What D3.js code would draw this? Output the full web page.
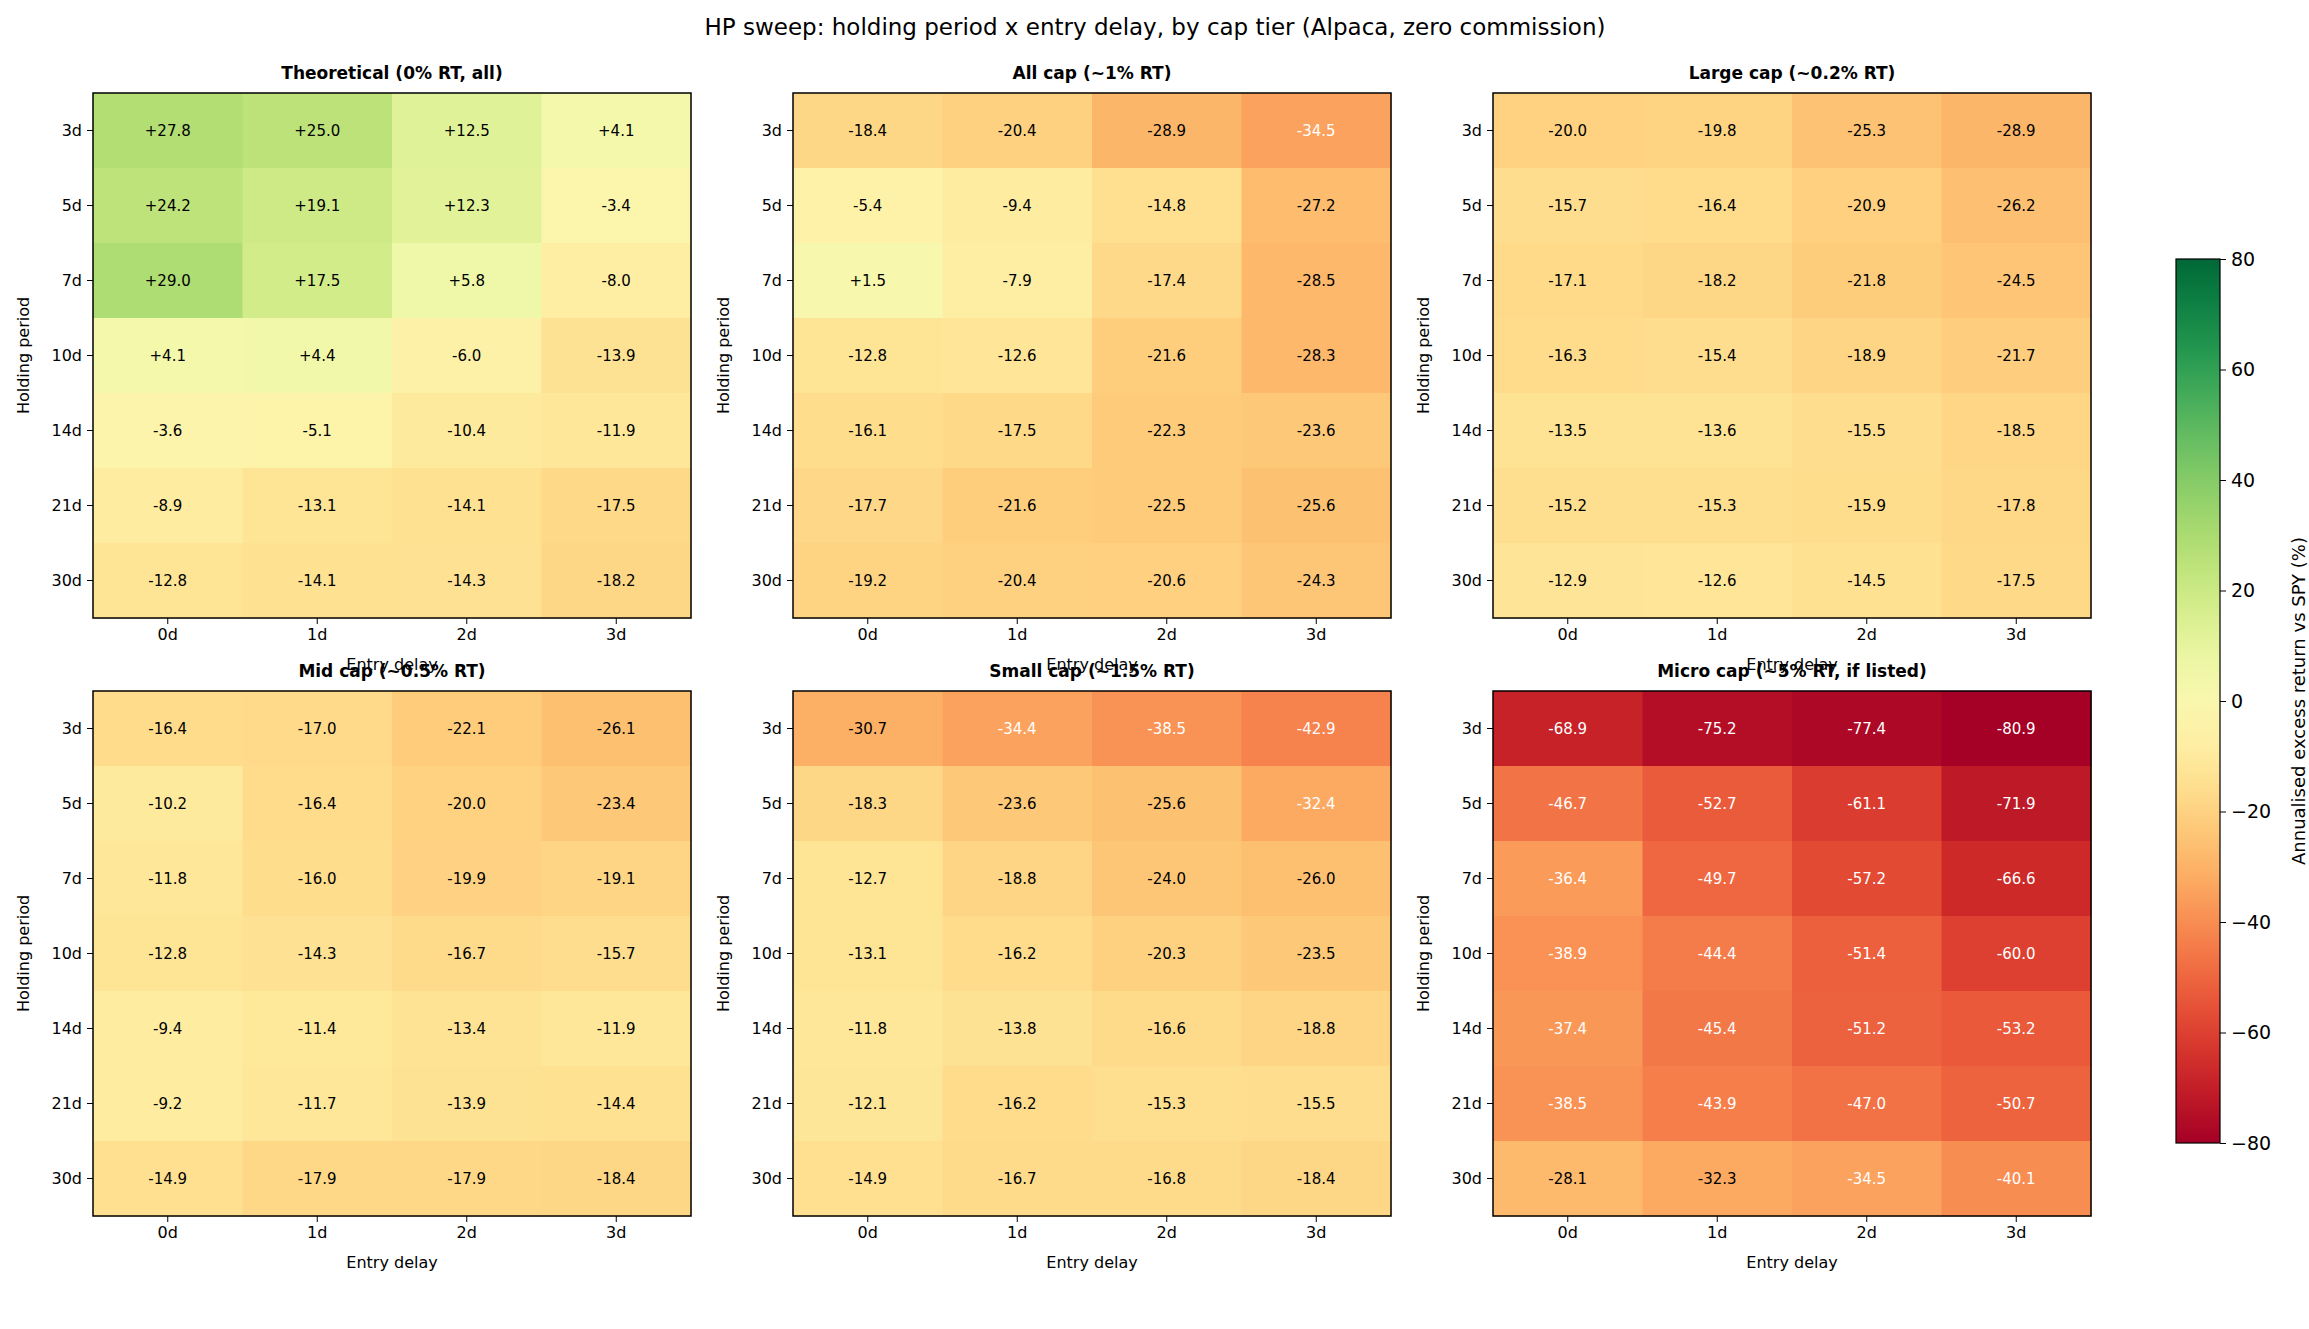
<!DOCTYPE html><html><head><meta charset="utf-8"><script src="https://cdn.jsdelivr.net/npm/d3@7"></script>
<style>body{margin:0;background:#fff}text{font-family:"DejaVu Sans",sans-serif}</style></head><body>
<svg id="c" width="2309" height="1329"></svg>
<script>
const holding=["3d","5d","7d","10d","14d","21d","30d"];
const delays=["0d","1d","2d","3d"];
const titles=["Theoretical (0% RT, all)","All cap (~1% RT)","Large cap (~0.2% RT)","Mid cap (~0.5% RT)","Small cap (~1.5% RT)","Micro cap (~5% RT, if listed)"];
const theoretical=[[27.8,25.0,12.5,4.1],[24.2,19.1,12.3,-3.4],[29.0,17.5,5.8,-8.0],[4.1,4.4,-6.0,-13.9],[-3.6,-5.1,-10.4,-11.9],[-8.9,-13.1,-14.1,-17.5],[-12.8,-14.1,-14.3,-18.2]];
const allCap=[[-18.4,-20.4,-28.9,-34.5],[-5.4,-9.4,-14.8,-27.2],[1.5,-7.9,-17.4,-28.5],[-12.8,-12.6,-21.6,-28.3],[-16.1,-17.5,-22.3,-23.6],[-17.7,-21.6,-22.5,-25.6],[-19.2,-20.4,-20.6,-24.3]];
const largeCap=[[-20.0,-19.8,-25.3,-28.9],[-15.7,-16.4,-20.9,-26.2],[-17.1,-18.2,-21.8,-24.5],[-16.3,-15.4,-18.9,-21.7],[-13.5,-13.6,-15.5,-18.5],[-15.2,-15.3,-15.9,-17.8],[-12.9,-12.6,-14.5,-17.5]];
const midCap=[[-16.4,-17.0,-22.1,-26.1],[-10.2,-16.4,-20.0,-23.4],[-11.8,-16.0,-19.9,-19.1],[-12.8,-14.3,-16.7,-15.7],[-9.4,-11.4,-13.4,-11.9],[-9.2,-11.7,-13.9,-14.4],[-14.9,-17.9,-17.9,-18.4]];
const smallCap=[[-30.7,-34.4,-38.5,-42.9],[-18.3,-23.6,-25.6,-32.4],[-12.7,-18.8,-24.0,-26.0],[-13.1,-16.2,-20.3,-23.5],[-11.8,-13.8,-16.6,-18.8],[-12.1,-16.2,-15.3,-15.5],[-14.9,-16.7,-16.8,-18.4]];
const microCap=[[-68.9,-75.2,-77.4,-80.9],[-46.7,-52.7,-61.1,-71.9],[-36.4,-49.7,-57.2,-66.6],[-38.9,-44.4,-51.4,-60.0],[-37.4,-45.4,-51.2,-53.2],[-38.5,-43.9,-47.0,-50.7],[-28.1,-32.3,-34.5,-40.1]];
const panels=[theoretical,allCap,largeCap,midCap,smallCap,microCap];
const cbTicks=[-80,-60,-40,-20,0,20,40,60,80];

const svg=d3.select("#c");
const color=d3.scaleSequential(d3.interpolateRdYlGn).domain([-80,80]);
svg.append("text").attr("x",1155).attr("y",35).attr("text-anchor","middle").attr("font-size",23).text("HP sweep: holding period x entry delay, by cap tier  (Alpaca, zero commission)");
const lefts=[93,793,1493], tops=[93,691], W=598, H=525;
panels.forEach((data,i)=>{
  const x0=lefts[i%3], y0=tops[Math.floor(i/3)];
  const g=svg.append("g").attr("transform",`translate(${x0},${y0})`);
  const x=d3.scaleBand().domain(delays).range([0,W]);
  const y=d3.scaleBand().domain(holding).range([0,H]);
  data.forEach((row,r)=>row.forEach((v,c)=>{
    g.append("rect").attr("x",x(delays[c])).attr("y",y(holding[r])).attr("width",x.bandwidth()+0.5).attr("height",y.bandwidth()+0.5).attr("fill",color(v));
    g.append("text").attr("x",x(delays[c])+x.bandwidth()/2).attr("y",y(holding[r])+y.bandwidth()/2).attr("dy","0.35em").attr("text-anchor","middle").attr("font-size",15).attr("fill",v< -32.35?"#fff":"#000").text((v>0?"+":"")+v.toFixed(1));
  }));
  g.append("rect").attr("width",W).attr("height",H).attr("fill","none").attr("stroke","#000").attr("stroke-width",1.5);
  const xa=g.append("g").attr("transform",`translate(0,${H})`).call(d3.axisBottom(x).tickSize(6).tickPadding(5));
  const ya=g.append("g").call(d3.axisLeft(y).tickSize(6).tickPadding(5));
  [xa,ya].forEach(a=>{a.select(".domain").remove();a.selectAll("text").attr("font-size",16).attr("font-family","DejaVu Sans");});
  g.append("text").attr("x",W/2).attr("y",H+52).attr("text-anchor","middle").attr("font-size",16).text("Entry delay");
  g.append("text").attr("transform",`translate(-64,${H/2}) rotate(-90)`).attr("text-anchor","middle").attr("font-size",16).text("Holding period");
  g.append("text").attr("x",W/2).attr("y",-14).attr("text-anchor","middle").attr("font-size",17).attr("font-weight","bold").text(titles[i]);
});
// colorbar
const cbx=2176,cby=259,cbw=44,cbh=884;
const defs=svg.append("defs");const grad=defs.append("linearGradient").attr("id","cb").attr("x1",0).attr("x2",0).attr("y1",1).attr("y2",0);
d3.range(0,1.001,0.05).forEach(t=>grad.append("stop").attr("offset",t).attr("stop-color",color(-80+160*t)));
svg.append("rect").attr("x",cbx).attr("y",cby).attr("width",cbw).attr("height",cbh).attr("fill","url(#cb)").attr("stroke","#000").attr("stroke-width",1.2);
const cs=d3.scaleLinear().domain([-80,80]).range([cby+cbh,cby]);
const ca=svg.append("g").attr("transform",`translate(${cbx+cbw},0)`).call(d3.axisRight(cs).tickValues(cbTicks).tickSize(6).tickPadding(5).tickFormat(d=>d<0?"\u2212"+(-d):d));
ca.select(".domain").remove();ca.selectAll("text").attr("font-size",19).attr("font-family","DejaVu Sans");
svg.append("text").attr("transform",`translate(${cbx+cbw+85},${cby+cbh/2}) rotate(-90)`).attr("text-anchor","middle").attr("font-size",18).text("Annualised excess return vs SPY (%)");
</script></body></html>
